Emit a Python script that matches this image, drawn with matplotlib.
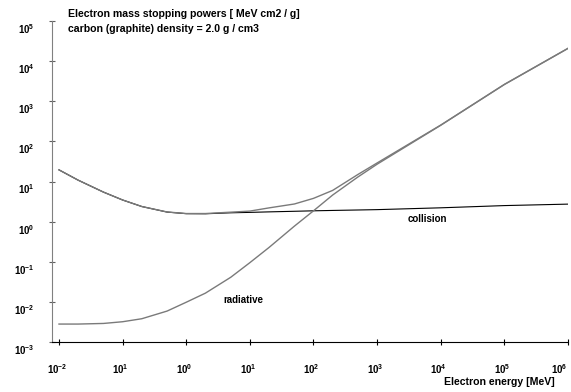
"""
Electron mass stopping powers in carbon (graphite), log-log plot.
Collision, radiative and total curves, old-style plot look.
"""

import matplotlib
matplotlib.use("Agg")
import matplotlib.pyplot as plt
from matplotlib.transforms import ScaledTranslation

# --- Fonts ---
FONT = ['Liberation Sans', 'DejaVu Sans']
plt.rcParams['font.family'] = FONT
plt.rcParams['font.weight'] = 'bold'
plt.rcParams['mathtext.fontset'] = 'custom'
plt.rcParams['mathtext.bf'] = 'Liberation Sans:bold'
plt.rcParams['mathtext.rm'] = 'Liberation Sans:bold'

# --- Data ---
energy = [0.01, 0.02, 0.05, 0.1, 0.2, 0.5, 1, 2, 5, 10, 20, 50,
          100, 200, 500, 1000, 1e4, 1e5, 1e6]                      # MeV
collision = [19.5, 10.8, 5.44, 3.46, 2.38, 1.73, 1.58, 1.57, 1.66, 1.70, 1.75, 1.81,
             1.86, 1.90, 1.95, 1.99, 2.21, 2.51, 2.73]
radiative = [0.0028, 0.0028, 0.0029, 0.0032, 0.0038, 0.0059, 0.0098, 0.0165, 0.041,
             0.095, 0.227, 0.77, 1.86, 4.6, 13.0, 27.0, 252, 2620, 20800]
total = [19.5, 10.8, 5.44, 3.46, 2.38, 1.74, 1.59, 1.59, 1.72, 1.83, 2.2, 2.75,
         3.8, 6.0, 15.0, 29.0, 255, 2625, 20800]

x_ticks = [1e-2, 1e-1, 1e0, 1e1, 1e2, 1e3, 1e4, 1e5, 1e6]
x_exps = ['-2', '1', '0', '1', '2', '3', '4', '5', '6']   # as printed
y_ticks = [1e-3, 1e-2, 1e-1, 1e0, 1e1, 1e2, 1e3, 1e4, 1e5]
y_exps = ['-3', '-2', '-1', '0', '1', '2', '3', '4', '5']

GRAY = '#7a7a7a'

fig = plt.figure(figsize=(5.71, 3.92), dpi=100)
ax = fig.add_axes([52 / 571, 1 - 342 / 392, 516 / 571, 321 / 392])

ax.plot(energy, collision, color='black', lw=0.8, zorder=2)
ax.plot(energy, total, color=GRAY, lw=1.0, zorder=3)
ax.plot(energy, radiative, color=GRAY, lw=1.0, zorder=3)

ax.set_xscale('log')
ax.set_yscale('log')
ax.set_xlim(10 ** -2.11, 1e6)
ax.set_ylim(1e-3, 1e5)

# --- Spines / ticks ---
ax.spines['top'].set_visible(False)
ax.spines['right'].set_visible(False)
ax.spines['left'].set_color('#808080')
ax.spines['bottom'].set_color('black')
ax.minorticks_off()

ax.set_xticks(x_ticks)
ax.set_xticklabels([r'$\mathbf{10^{%s}}$' % e for e in x_exps])
ax.set_yticks(y_ticks)
ax.set_yticklabels([r'$\mathbf{10^{%s}}$' % e for e in y_exps])
ax.tick_params(axis='x', direction='inout', length=5, width=0.8, color='black',
               labelsize=7, pad=12)
ax.tick_params(axis='y', direction='inout', length=5, width=0.8, color='#606060',
               labelsize=7, pad=10)

# y labels sit a little below their ticks
y_off = ScaledTranslation(0, -7 / 100, fig.dpi_scale_trans)
for lab in ax.get_yticklabels():
    lab.set_transform(lab.get_transform() + y_off)

# x labels sit slightly left of their ticks; the last one is pushed in from the edge
x_labels = ax.get_xticklabels()
for i, lab in enumerate(x_labels):
    dx = -9 if i == len(x_labels) - 1 else -2
    lab.set_transform(lab.get_transform() + ScaledTranslation(dx / 100, 0, fig.dpi_scale_trans))

# --- Texts ---
fig.text(68 / 571, 1 - 14 / 392, "Electron mass stopping powers [ MeV cm2 / g]",
         fontsize=7.6, fontweight='bold', va='center', ha='left')
fig.text(68 / 571, 1 - 29 / 392, "carbon (graphite) density = 2.0 g / cm3",
         fontsize=7.6, fontweight='bold', va='center', ha='left')
fig.text(555 / 571, 1 - 382 / 392, "Electron energy [MeV]",
         fontsize=7.6, fontweight='bold', va='center', ha='right')

ax.text(6100, 1.15, "collision", fontsize=7, fontweight='bold', va='center', ha='center')
ax.annotate("radiative", xy=(243 / 571, 1 - 300 / 392), xycoords='figure fraction',
            fontsize=7, fontweight='bold', va='center', ha='center')

fig.savefig("out.png", dpi=100)
